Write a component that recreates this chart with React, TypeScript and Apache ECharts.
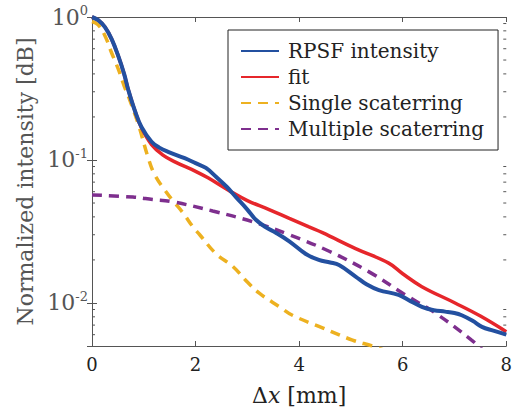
import React, { useEffect, useRef } from "react";
import * as echarts from "echarts";

const FONT = "DejaVu Serif";

const rpsfX = [0, 0.12, 0.25, 0.38, 0.51, 0.62, 0.7, 0.83, 0.955, 1.15, 1.3, 1.47, 1.79, 2.0, 2.2, 2.4, 2.6, 2.78, 3.0, 3.17, 3.35, 3.55, 3.81, 4.13, 4.38, 4.6, 4.77, 5.09, 5.3, 5.54, 5.92, 6.15, 6.37, 6.6, 6.82, 7.0, 7.14, 7.35, 7.53, 7.75, 8.0];
const rpsfY = [1.0, 0.95, 0.85, 0.7, 0.53, 0.4, 0.31, 0.22, 0.17, 0.134, 0.122, 0.114, 0.103, 0.095, 0.088, 0.076, 0.065, 0.055, 0.045, 0.038, 0.034, 0.031, 0.027, 0.022, 0.02, 0.0192, 0.0184, 0.0153, 0.0135, 0.0123, 0.0114, 0.0103, 0.0094, 0.0089, 0.0087, 0.0085, 0.0082, 0.0075, 0.0068, 0.0064, 0.006];

const fitX = [0, 0.12, 0.25, 0.38, 0.51, 0.62, 0.7, 0.83, 0.955, 1.15, 1.37, 1.6, 2.01, 2.24, 2.65, 3.0, 3.42, 3.81, 4.19, 4.45, 5.09, 5.73, 6.0, 6.37, 7.01, 7.5, 8.0];
const fitY = [1.0, 0.95, 0.85, 0.7, 0.53, 0.4, 0.31, 0.22, 0.168, 0.128, 0.108, 0.097, 0.083, 0.075, 0.061, 0.052, 0.045, 0.039, 0.034, 0.031, 0.024, 0.019, 0.016, 0.013, 0.01, 0.0081, 0.0063];

const singleX = [0, 0.12, 0.25, 0.38, 0.51, 0.62, 0.7, 0.89, 1.08, 1.21, 1.4, 1.56, 1.75, 1.95, 2.08, 2.4, 2.72, 3.0, 3.23, 3.62, 3.87, 4.45, 5.03, 5.41, 5.7];
const singleY = [0.93, 0.88, 0.74, 0.56, 0.43, 0.33, 0.28, 0.18, 0.105, 0.079, 0.062, 0.052, 0.043, 0.034, 0.03, 0.022, 0.018, 0.014, 0.0117, 0.0094, 0.0082, 0.0067, 0.0055, 0.005, 0.0046];

const multiX = [0, 0.79, 1.17, 1.56, 2.33, 3.1, 3.81, 4.58, 5.35, 6.05, 6.63, 7.33, 7.6];
const multiY = [0.057, 0.055, 0.053, 0.051, 0.044, 0.037, 0.03, 0.023, 0.0165, 0.0114, 0.0085, 0.0055, 0.0045];

const seriesNames = ["RPSF intensity", "fit", "Single scaterring", "Multiple scaterring"];
const seriesColors = ["#2350a0", "#e6262b", "#edb120", "#7e2f8e"];

const yMin = 0.005;
const yMax = 1;
const minorTicks = [0.006, 0.007, 0.008, 0.009, 0.02, 0.03, 0.04, 0.05, 0.06, 0.07, 0.08, 0.09, 0.2, 0.3, 0.4, 0.5, 0.6, 0.7, 0.8, 0.9];

const zip = (xs: number[], ys: number[]) => xs.map((x, i) => [x, ys[i]]);

export default function App() {
  const ref = useRef<HTMLDivElement>(null);
  useEffect(() => {
    if (!ref.current) return;
    const chart = echarts.init(ref.current, null, { renderer: "svg" });
    const axisColor = "#555";
    const yLabelFmt = (v: number) => {
      const l = Math.log10(v);
      const e = Math.round(l);
      if (Math.abs(l - e) > 1e-6) return "";
      return `{b|10}{s|${e}}`;
    };
    const lineSeries = (i: number, xs: number[], ys: number[], dashed: boolean, width: number, z: number) => ({
      name: seriesNames[i],
      type: "line",
      data: zip(xs, ys),
      smooth: 0.4,
      showSymbol: false,
      symbol: "none",
      z,
      clip: true,
      lineStyle: { color: seriesColors[i], width, type: dashed ? [10, 7] : "solid" },
      itemStyle: { color: seriesColors[i] },
    });
    chart.setOption({
      animation: false,
      backgroundColor: "#fff",
      grid: { left: 92, top: 17, right: 7, bottom: 66, containLabel: false },
      legend: {
        data: seriesNames,
        orient: "vertical",
        left: 228,
        top: 30,
        padding: [11, 14, 11, 12],
        itemGap: 6,
        itemWidth: 38,
        itemHeight: 14,
        borderColor: "#222",
        borderWidth: 1,
        backgroundColor: "#fff",
        itemStyle: { opacity: 0 },
        textStyle: { fontFamily: FONT, fontSize: 20, color: "#222", padding: [0, 0, 0, 4] },
      },
      xAxis: [
        {
          type: "value",
          min: 0,
          max: 8,
          interval: 2,
          name: "{n|Δ}{i|x}{n| [mm]}",
          nameLocation: "middle",
          nameGap: 38,
          nameTextStyle: {
            fontFamily: FONT,
            fontSize: 22,
            color: "#222",
            rich: {
              n: { fontFamily: FONT, fontSize: 22, color: "#222" },
              i: { fontFamily: FONT, fontSize: 22, color: "#222", fontStyle: "italic" },
            },
          },
          axisLine: { show: true, lineStyle: { color: axisColor, width: 1 } },
          axisTick: { show: true, inside: true, length: 5, lineStyle: { color: axisColor } },
          axisLabel: { fontFamily: FONT, fontSize: 18, color: "#222", margin: 9 },
          splitLine: { show: false },
        },
        {
          type: "value",
          position: "top",
          min: 0,
          max: 8,
          interval: 2,
          axisLine: { show: true, lineStyle: { color: axisColor, width: 1 } },
          axisTick: { show: true, inside: true, length: 5, lineStyle: { color: axisColor } },
          axisLabel: { show: false },
          splitLine: { show: false },
        },
      ],
      yAxis: [
        {
          type: "log",
          logBase: 10,
          min: yMin,
          max: yMax,
          name: "Normalized intensity [dB]",
          nameLocation: "middle",
          nameGap: 56,
          nameRotate: 90,
          nameTextStyle: { fontFamily: FONT, fontSize: 22, color: "#555" },
          axisLine: { show: true, lineStyle: { color: axisColor, width: 1 } },
          axisTick: { show: true, inside: true, length: 5, lineStyle: { color: axisColor } },
          axisLabel: {
            formatter: yLabelFmt,
            margin: 4,
            rich: {
              b: { fontFamily: FONT, fontSize: 22, color: "#555", lineHeight: 26 },
              s: { fontFamily: FONT, fontSize: 13, color: "#555", verticalAlign: "top", lineHeight: 14 },
            },
          },
          splitLine: { show: false },
        },
        {
          type: "log",
          logBase: 10,
          min: yMin,
          max: yMax,
          position: "right",
          axisLine: { show: true, lineStyle: { color: axisColor, width: 1 } },
          axisTick: { show: true, inside: true, length: 5, lineStyle: { color: axisColor } },
          axisLabel: { show: false },
          splitLine: { show: false },
        },
      ],
      series: [
        lineSeries(2, singleX, singleY, true, 3.5, 2),
        lineSeries(3, multiX, multiY, true, 3.5, 2),
        lineSeries(1, fitX, fitY, false, 3.5, 3),
        lineSeries(0, rpsfX, rpsfY, false, 4, 4),
        {
          type: "custom",
          silent: true,
          clip: false,
          z: 1,
          data: minorTicks.map((v) => [0, v]),
          renderItem: (params: any, api: any) => {
            const v = api.value(1);
            const p0 = api.coord([0, v]);
            const p1 = api.coord([8, v]);
            const st = { stroke: axisColor, lineWidth: 1 };
            return {
              type: "group",
              children: [
                { type: "line", shape: { x1: p0[0], y1: p0[1], x2: p0[0] + 3, y2: p0[1] }, style: st },
                { type: "line", shape: { x1: p1[0] - 3, y1: p1[1], x2: p1[0], y2: p1[1] }, style: st },
              ],
            };
          },
        },
      ],
    });
    return () => chart.dispose();
  }, []);
  return <div ref={ref} style={{ position: "fixed", left: 0, top: 0, width: 515, height: 412 }} />;
}
